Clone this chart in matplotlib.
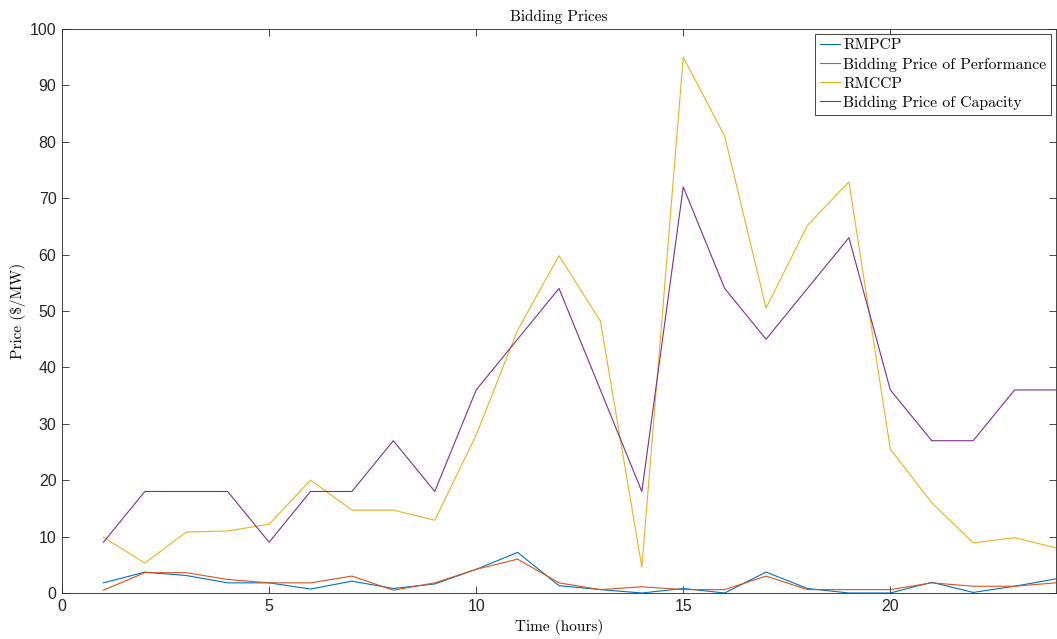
import matplotlib
matplotlib.use("Agg")
import matplotlib.pyplot as plt

hours = list(range(1, 25))
rmpcp = [1.8, 3.7, 3.1, 1.8, 1.8, 0.7, 2.1, 0.8, 1.6, 4.2, 7.2, 1.3,
         0.6, 0.0, 0.8, 0.0, 3.7, 0.8, 0.0, 0.0, 1.9, 0.1, 1.2, 2.5]
perf_bid = [0.5, 3.6, 3.6, 2.4, 1.8, 1.8, 3.0, 0.5, 1.8, 4.2, 6.0, 1.8,
            0.6, 1.1, 0.6, 0.6, 3.0, 0.6, 0.6, 0.6, 1.8, 1.2, 1.2, 1.8]
rmccp = [9.9, 5.3, 10.8, 11.0, 12.2, 20.0, 14.7, 14.7, 12.9, 28.0, 46.6, 59.8,
         48.2, 4.6, 95.0, 81.0, 50.5, 65.2, 72.9, 25.5, 16.0, 8.9, 9.8, 8.0]
cap_bid = [9, 18, 18, 18, 9, 18, 18, 27, 18, 36, 45, 54,
           36, 18, 72, 54, 45, 54, 63, 36, 27, 27, 36, 36]

series = [
    ("RMPCP", rmpcp, "#0072BD"),
    ("Bidding Price of Performance", perf_bid, "#D95319"),
    ("RMCCP", rmccp, "#EDB120"),
    ("Bidding Price of Capacity", cap_bid, "#7E2F8E"),
]

W, H = 1057, 639
fig = plt.figure(figsize=(W / 100, H / 100), dpi=100)
ax = fig.add_axes([62 / W, 1 - 593 / H, (1056 - 62) / W, (593 - 29) / H])

for name, vals, col in series:
    ax.plot(hours, vals, color=col, lw=0.8, label=name)

ax.set_xlim(0, 24)
ax.set_ylim(0, 100)
ax.set_xticks([0, 5, 10, 15, 20])
ax.set_yticks(range(0, 101, 10))

tickcol = "#262626"
ax.tick_params(direction="in", top=True, right=True, length=5, width=0.6,
               colors=tickcol, labelsize=11.5, pad=4)
for lab in ax.get_xticklabels() + ax.get_yticklabels():
    lab.set_family("Liberation Sans")
for s in ax.spines.values():
    s.set_color(tickcol)
    s.set_linewidth(0.6)

serif = "cmr10"
ax.set_title("Bidding Prices", fontfamily=serif, fontsize=11, pad=6)
ax.set_xlabel("Time (hours)", fontfamily=serif, fontsize=11, labelpad=4)
ax.set_ylabel("Price (\\$/MW)", fontfamily=serif, fontsize=11, labelpad=3)

leg = ax.legend(loc="upper right", prop={"family": serif, "size": 11.3},
                handlelength=1.3, handletextpad=0.2, borderaxespad=0.3,
                labelspacing=0.32, borderpad=0.3, fancybox=False, framealpha=1)
leg.get_frame().set_edgecolor("#262626")
leg.get_frame().set_linewidth(0.6)

fig.savefig("out.png", dpi=100)
